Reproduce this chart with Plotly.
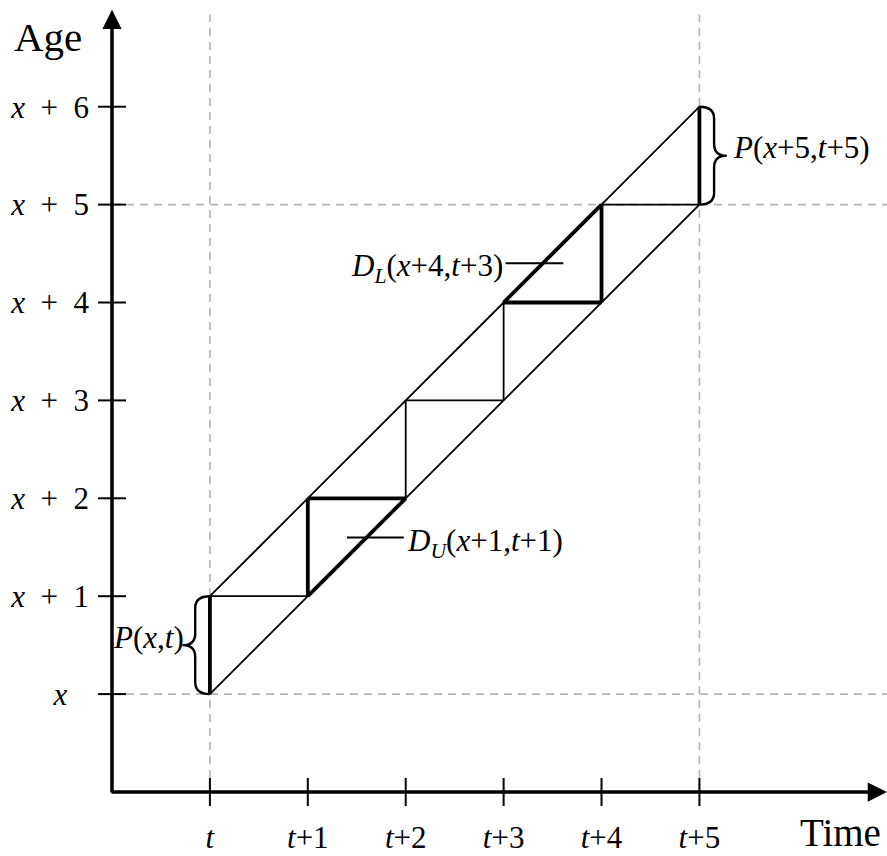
import plotly.graph_objects as go

# ---- data ----
T_VALUES = [0, 1, 2, 3, 4, 5]
T_LABELS = ["<i>t</i>", "<i>t</i>+1", "<i>t</i>+2", "<i>t</i>+3", "<i>t</i>+4", "<i>t</i>+5"]
AGE_VALUES = [0, 1, 2, 3, 4, 5, 6]
AGE_LABELS = ["<i>x</i>\u2002\u2009"] + ["<i>x</i>\u2002+\u2002%d" % k for k in range(1, 7)]

COHORT_LINES = [((0, 0), (5, 5)), ((0, 1), (5, 6))]
THIN_SEGMENTS = [((0, 1), (1, 1)), ((2, 2), (2, 3)), ((2, 3), (3, 3)),
                 ((3, 3), (3, 4)), ((4, 5), (5, 5))]
THICK_SEGMENTS = [((0, 0), (0, 1)), ((1, 1), (1, 2)), ((1, 2), (2, 2)), ((1, 1), (2, 2)),
                  ((3, 4), (4, 4)), ((4, 4), (4, 5)), ((3, 4), (4, 5)), ((5, 5), (5, 6))]
GUIDE_T = [0, 5]
GUIDE_AGE = [0, 5]

# braces: (time, age_from, age_to, side, label)
BRACES = [(0, 0, 1, -1, "<i>P</i>(<i>x</i>,<i>t</i>)"),
          (5, 5, 6, 1, "<i>P</i>(<i>x</i>+5,<i>t</i>+5)")]

# leader labels: (label, leader x0, leader x1, leader y, text side)
LEADERS = [("<i>D</i><sub><i>U</i></sub>(<i>x</i>+1,<i>t</i>+1)", 1.40, 1.98, 1.60, "right"),
           ("<i>D</i><sub><i>L</i></sub>(<i>x</i>+4,<i>t</i>+3)", 3.02, 3.61, 4.40, "left")]

# ---- layout constants ----
X_MIN, X_MAX = -1.0, 6.916
Y_MIN, Y_MAX = -1.0, 7.09
FONT = "Liberation Serif, Times New Roman, serif"
LBL = 31
THIN_W = 1.8
THICK_W = 3.8
AXIS_W = 3.5
GRAY = "#b4b4b4"

fig = go.Figure()


def seg_trace(segs, width, color="black", dash=None):
    xs, ys = [], []
    for (x0, y0), (x1, y1) in segs:
        xs += [x0, x1, None]
        ys += [y0, y1, None]
    fig.add_trace(go.Scatter(x=xs, y=ys, mode="lines",
                             line=dict(color=color, width=width, dash=dash),
                             hoverinfo="skip", showlegend=False, cliponaxis=False))


# gray dashed guides
guides = [((t, Y_MIN), (t, 6.94)) for t in GUIDE_T] + [((X_MIN, a), (X_MAX, a)) for a in GUIDE_AGE]
seg_trace(guides, 1.6, GRAY, "8px,6px")

seg_trace(COHORT_LINES, THIN_W)
seg_trace(THIN_SEGMENTS, THIN_W)
seg_trace(THICK_SEGMENTS, THICK_W)

# tick marks crossing the axes
fig.add_trace(go.Scatter(x=T_VALUES, y=[Y_MIN] * len(T_VALUES), mode="markers",
                         marker=dict(symbol="line-ns", size=20, line=dict(width=2, color="black")),
                         hoverinfo="skip", showlegend=False, cliponaxis=False))
fig.add_trace(go.Scatter(x=[X_MIN] * len(AGE_VALUES), y=AGE_VALUES, mode="markers",
                         marker=dict(symbol="line-ew", size=20, line=dict(width=2, color="black")),
                         hoverinfo="skip", showlegend=False, cliponaxis=False))

shapes = []
annotations = []

# braces
ARM, TIP, R = 0.15, 0.28, 0.12
for t, a0, a1, side, label in BRACES:
    am = (a0 + a1) / 2
    xa = t + side * ARM
    xt = t + side * TIP
    path = (f"M {t},{a1} Q {xa},{a1} {xa},{a1 - R} L {xa},{am + R} "
            f"Q {xa},{am} {xt},{am} Q {xa},{am} {xa},{am - R} "
            f"L {xa},{a0 + R} Q {xa},{a0} {t},{a0}")
    shapes.append(dict(type="path", path=path, xref="x", yref="y",
                       line=dict(color="black", width=2.4)))
    annotations.append(dict(x=xt + 0.04, y=am + 0.08, xref="x", yref="y", text=label,
                            showarrow=False, xanchor="left" if side > 0 else "right",
                            yanchor="middle", font=dict(family=FONT, size=LBL, color="black")))

# leader labels
for label, lx0, lx1, ly, side in LEADERS:
    shapes.append(dict(type="line", x0=lx0, x1=lx1, y0=ly, y1=ly, xref="x", yref="y",
                       line=dict(color="black", width=2)))
    if side == "right":
        annotations.append(dict(x=lx1 + 0.01, y=ly - 0.06, xref="x", yref="y", text=label,
                                showarrow=False, xanchor="left", yanchor="middle",
                                font=dict(family=FONT, size=LBL, color="black")))
    else:
        annotations.append(dict(x=lx0 - 0.01, y=ly - 0.05, xref="x", yref="y", text=label,
                                showarrow=False, xanchor="right", yanchor="middle",
                                font=dict(family=FONT, size=LBL, color="black")))

# axes with arrowheads
annotations.append(dict(x=X_MAX, y=Y_MIN, ax=X_MIN - 0.02, ay=Y_MIN, xref="x", yref="y",
                        axref="x", ayref="y", text="", showarrow=True, arrowhead=2,
                        arrowsize=1.1, arrowwidth=AXIS_W, arrowcolor="black", standoff=0))
annotations.append(dict(x=X_MIN, y=6.99, ax=X_MIN, ay=Y_MIN - 0.02, xref="x", yref="y",
                        axref="x", ayref="y", text="", showarrow=True, arrowhead=2,
                        arrowsize=1.1, arrowwidth=AXIS_W, arrowcolor="black", standoff=0))

# axis titles (paper coordinates, outside the plot area)
annotations.append(dict(x=-0.0826, y=0.953, xref="paper", yref="paper", text="Age",
                        showarrow=False, xanchor="center", yanchor="middle",
                        font=dict(family=FONT, size=41, color="black")))
annotations.append(dict(x=0.994, y=-0.079, xref="paper", yref="paper", text="Time",
                        showarrow=False, xanchor="right", yanchor="bottom", borderpad=0,
                        font=dict(family=FONT, size=39, color="black")))

fig.update_layout(
    width=887, height=856,
    margin=dict(l=112, r=0, t=0, b=64),
    paper_bgcolor="white", plot_bgcolor="white",
    template="none",
    showlegend=False,
    shapes=shapes,
    annotations=annotations,
    xaxis=dict(range=[X_MIN, X_MAX], tickvals=T_VALUES, ticktext=T_LABELS,
               showgrid=False, zeroline=False, showline=False, ticks="",
               ticklabelstandoff=24, automargin=False,
               tickfont=dict(family=FONT, size=LBL, color="black")),
    yaxis=dict(range=[Y_MIN, Y_MAX], tickvals=AGE_VALUES, ticktext=AGE_LABELS,
               showgrid=False, zeroline=False, showline=False, ticks="",
               ticklabelstandoff=22, automargin=False,
               tickfont=dict(family=FONT, size=LBL, color="black")),
)

fig.write_html("out.html")
